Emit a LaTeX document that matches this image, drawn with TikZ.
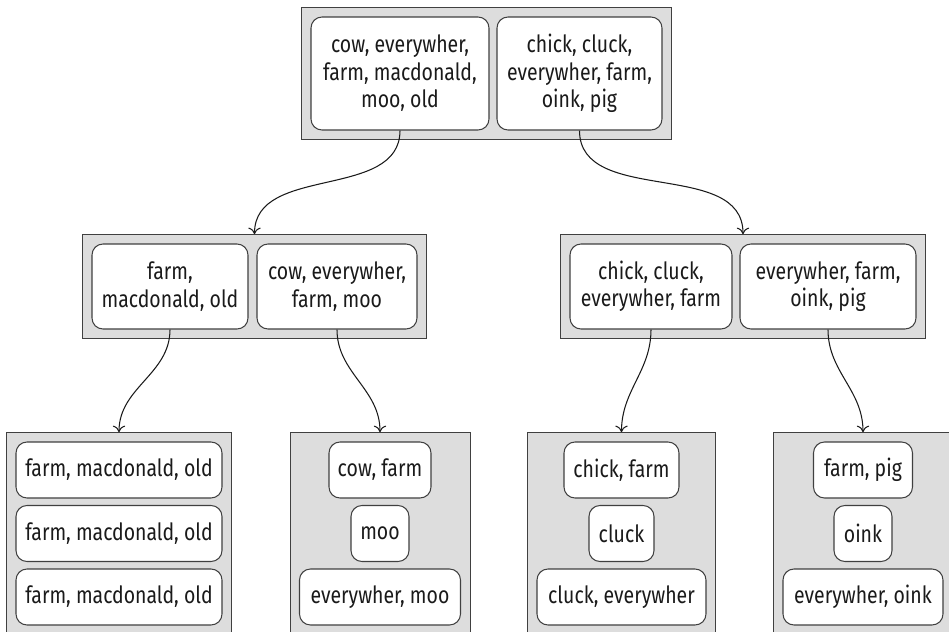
\documentclass[tikz,border=0pt]{standalone}
\usepackage{fontspec}
\setmainfont{Fira Sans}[FakeStretch=0.82]
\usetikzlibrary{arrows.meta,fit,backgrounds}
\definecolor{ink}{HTML}{1A1A1A}
\definecolor{edge}{HTML}{404040}
\definecolor{shade}{HTML}{DDDDDD}

\begin{document}
\begin{tikzpicture}[
    line width=0.6pt, >={To[length=1.3mm,width=2.5mm]},
    font=\fontsize{13.5}{15.6}\selectfont, color=ink,
    word/.style={draw=edge, fill=white, rounded corners=0.22cm, align=center,
      inner sep=0pt, minimum height=1.12cm},
    group/.style={draw=edge, fill=shade, inner sep=0.18cm},
    link/.style={->, draw=ink}]
  % fixed canvas, same proportions as the page
  \useasboundingbox (0,0) rectangle (18.98,-12.64);

  % ================= root =================
  \node[word, minimum width=3.56cm, minimum height=2.26cm] (r1) at (8.00,-1.47)
    {cow, everywher,\\farm, macdonald,\\moo, old};
  \node[word, minimum width=3.30cm, minimum height=2.26cm] (r2) at (11.59,-1.47)
    {chick, cluck,\\everywher, farm,\\oink, pig};

  % ================= second level =================
  \node[word, minimum width=3.12cm, minimum height=1.70cm] (m1) at (3.40,-5.73)
    {farm,\\macdonald, old};
  \node[word, minimum width=3.20cm, minimum height=1.70cm] (m2) at (6.74,-5.73)
    {cow, everywher,\\farm, moo};
  \node[word, minimum width=3.24cm, minimum height=1.70cm] (m3) at (13.02,-5.73)
    {chick, cluck,\\everywher, farm};
  \node[word, minimum width=3.52cm, minimum height=1.70cm] (m4) at (16.56,-5.73)
    {everywher, farm,\\oink, pig};

  % ================= leaves =================
  \foreach \n/\x/\y/\w/\t in {
      a1/2.38/-9.40/4.12/{farm, macdonald, old},
      a2/2.38/-10.67/4.12/{farm, macdonald, old},
      a3/2.38/-11.94/4.12/{farm, macdonald, old},
      b1/7.60/-9.40/2.04/{cow, farm},
      b2/7.60/-10.67/1.16/{moo},
      b3/7.60/-11.94/3.22/{everywher, moo},
      c1/12.43/-9.40/2.30/{chick, farm},
      c2/12.43/-10.67/1.30/{cluck},
      c3/12.43/-11.94/3.38/{cluck, everywher},
      d1/17.26/-9.40/1.98/{farm, pig},
      d2/17.26/-10.67/1.16/{oink},
      d3/17.26/-11.94/3.20/{everywher, oink}} {
    \node[word, minimum width=\w cm] (\n) at (\x,\y) {\t};
  }

  % ================= grey groups behind the words =================
  \begin{scope}[on background layer]
    \node[group, fit=(r1)(r2)] (root) {};
    \node[group, fit=(m1)(m2)] (left) {};
    \node[group, fit=(m3)(m4)] (right) {};
    \node[group, fit=(a1)(a3)] (leafa) {};
    \node[group, fit=(b1)(b3)] (leafb) {};
    \node[group, fit=(c1)(c3)] (leafc) {};
    \node[group, fit=(d1)(d3)] (leafd) {};
  \end{scope}

  % ================= connectors =================
  \draw[link] (r1.south) to[out=-90, in=90] (left.north);
  \draw[link] (r2.south) to[out=-90, in=90] (right.north);
  \draw[link] (m1.south) to[out=-90, in=90] (leafa.north);
  \draw[link] (m2.south) to[out=-90, in=90] (leafb.north);
  \draw[link] (m3.south) to[out=-90, in=90] (leafc.north);
  \draw[link] (m4.south) to[out=-90, in=90] (leafd.north);
\end{tikzpicture}
\end{document}
